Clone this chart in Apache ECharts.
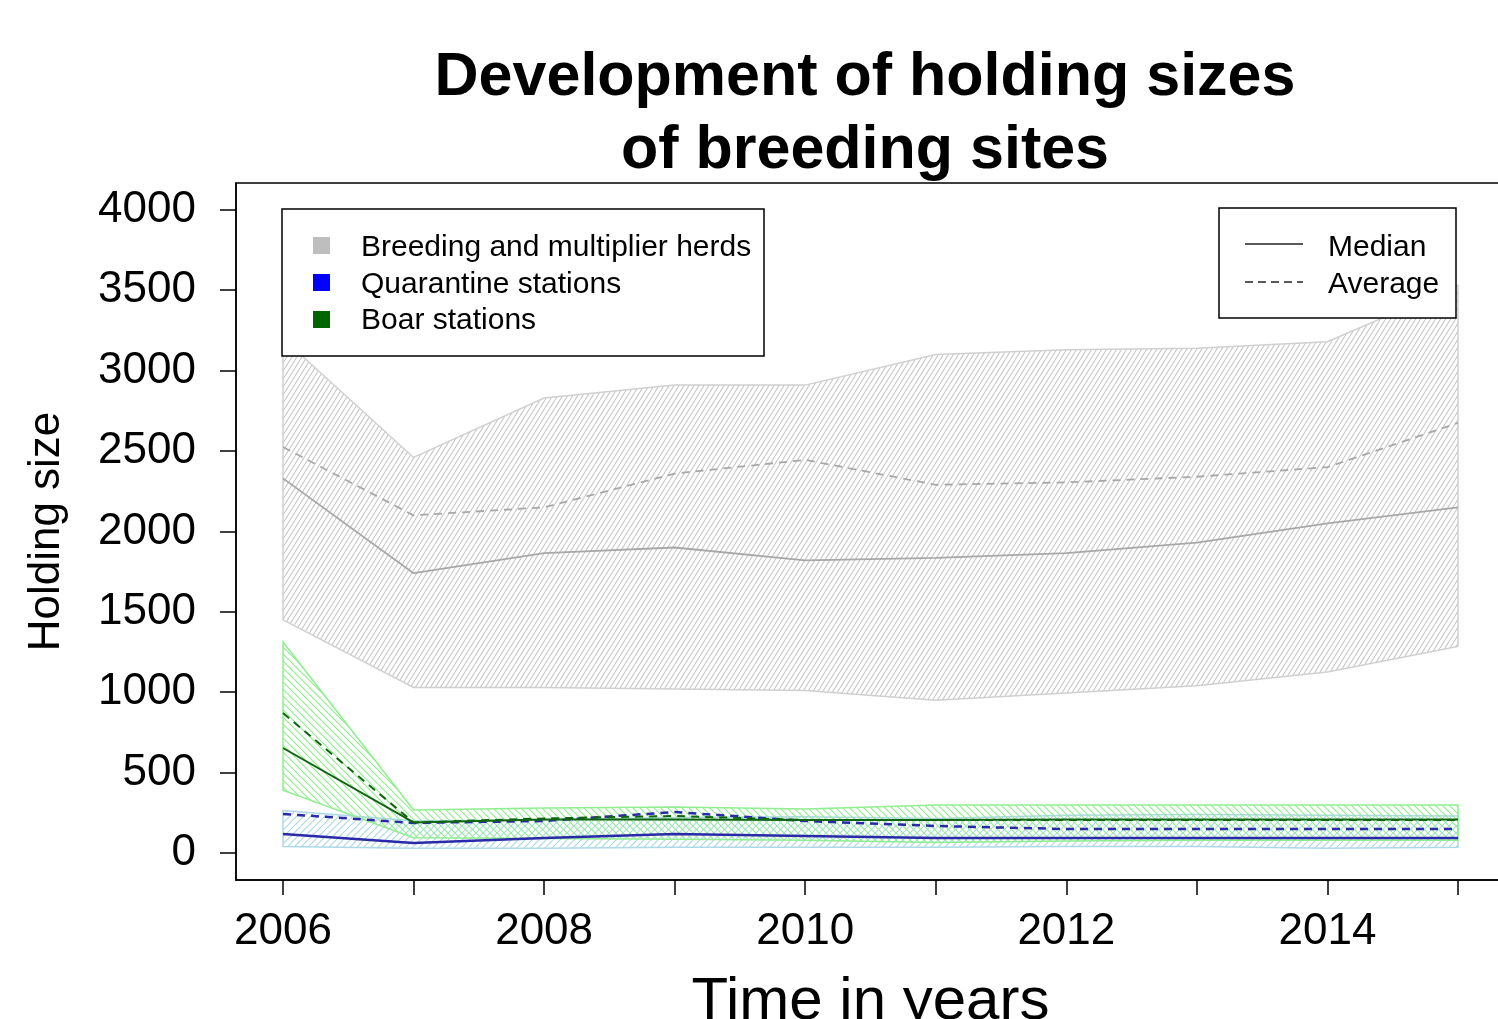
<!DOCTYPE html>
<html>
<head>
<meta charset="utf-8">
<script src="https://cdn.jsdelivr.net/npm/echarts@6/dist/echarts.min.js"></script>
<style>
html,body{margin:0;padding:0;background:#fff;}
#chart{width:1498px;height:1019px;}
</style>
</head>
<body>
<div id="chart"></div>
<script>
// years on the x axis
var years = [2006, 2007, 2008, 2009, 2010, 2011, 2012, 2013, 2014, 2015];
var yearLabels = [2006, 2008, 2010, 2012, 2014];
var yTicks = [0, 500, 1000, 1500, 2000, 2500, 3000, 3500, 4000];

// Breeding and multiplier herds
var breedUpper   = [3200, 2460, 2830, 2910, 2910, 3100, 3130, 3140, 3180, 3530];
var breedLower   = [1450, 1030, 1030, 1020, 1010, 950, 995, 1040, 1125, 1285];
var breedMedian  = [2330, 1740, 1865, 1900, 1820, 1835, 1865, 1930, 2050, 2150];
var breedAverage = [2525, 2100, 2150, 2360, 2445, 2290, 2305, 2340, 2400, 2675];

// Quarantine stations
var quarUpper   = [265, 200, 205, 220, 225, 215, 235, 240, 235, 230];
var quarLower   = [40, 30, 30, 35, 35, 35, 40, 40, 30, 35];
var quarMedian  = [118, 62, 93, 118, 106, 93, 93, 93, 93, 93];
var quarAverage = [243, 187, 199, 255, 199, 168, 149, 149, 149, 149];

// Boar stations
var boarUpper   = [1312, 267, 280, 286, 274, 298, 298, 298, 298, 298];
var boarLower   = [390, 95, 90, 85, 80, 65, 75, 80, 80, 80];
var boarMedian  = [653, 190, 208, 208, 205, 205, 208, 208, 208, 208];
var boarAverage = [870, 190, 215, 230, 205, 205, 205, 205, 205, 205];

var FONT = 'Liberation Sans, Arial, sans-serif';

function hatch(color, w, h, dir, lw) {
  var c = document.createElement('canvas');
  c.width = w; c.height = h;
  var ctx = c.getContext('2d');
  ctx.strokeStyle = color;
  ctx.lineWidth = lw;
  ctx.beginPath();
  for (var ox = -w; ox <= w; ox += w) {
    if (dir === '/') { ctx.moveTo(ox, h); ctx.lineTo(ox + w, 0); }
    else { ctx.moveTo(ox, 0); ctx.lineTo(ox + w, h); }
  }
  ctx.stroke();
  return {image: c, repeat: 'repeat'};
}

function band(name, color, lower, upper, fill, stroke) {
  return {
    name: name,
    type: 'custom',
    itemStyle: {color: color},
    data: [[years[0], lower[0]]],
    renderItem: function (params, api) {
      var pts = [];
      for (var i = 0; i < years.length; i++) pts.push(api.coord([years[i], upper[i]]));
      for (var j = years.length - 1; j >= 0; j--) pts.push(api.coord([years[j], lower[j]]));
      return {
        type: 'polygon',
        shape: {points: pts},
        style: {fill: fill, stroke: stroke, lineWidth: 1.5}
      };
    },
    silent: true
  };
}

function line(vals, color, dashed, width) {
  return {
    type: 'line',
    data: years.map(function (y, i) { return [y, vals[i]]; }),
    symbol: 'none',
    lineStyle: {color: color, width: width, type: dashed ? [8, 6] : 'solid'},
    z: 5,
    silent: true
  };
}

var chart = echarts.init(document.getElementById('chart'));
var option = {
  animation: false,
  backgroundColor: '#fff',
  title: {
    text: 'Development of holding sizes\nof breeding sites',
    left: 860,
    top: 37,
    textAlign: 'center',
    textStyle: {fontFamily: FONT, fontSize: 61, fontWeight: 'bold', color: '#000', lineHeight: 73}
  },
  grid: {
    left: 236, top: 183, width: 1269, height: 697,
    outerBoundsMode: 'none',
    containLabel: false,
    show: true, borderColor: '#000', borderWidth: 1.5, backgroundColor: 'transparent'
  },
  xAxis: {
    type: 'value',
    min: 2005.64, max: 2015.36,
    name: 'Time in years',
    nameLocation: 'middle',
    nameGap: 92,
    nameTextStyle: {fontFamily: FONT, fontSize: 60, color: '#000'},
    axisLine: {show: true, onZero: false, lineStyle: {color: '#000', width: 1.5}},
    axisTick: {show: true, length: 15, customValues: years, lineStyle: {color: '#000', width: 1.5}},
    axisLabel: {
      customValues: yearLabels, margin: 30,
      fontFamily: FONT, fontSize: 44, color: '#000',
      formatter: function (v) { return String(v); }
    },
    splitLine: {show: false}
  },
  yAxis: {
    type: 'value',
    min: -168, max: 4167,
    name: 'Holding size',
    nameLocation: 'middle',
    nameGap: 167,
    nameTextStyle: {fontFamily: FONT, fontSize: 44, color: '#000'},
    axisLine: {show: true, onZero: false, lineStyle: {color: '#000', width: 1.5}},
    axisTick: {show: true, length: 16, customValues: yTicks, lineStyle: {color: '#000', width: 1.5}},
    axisLabel: {
      customValues: yTicks, margin: 40,
      fontFamily: FONT, fontSize: 44, color: '#000',
      formatter: function (v) { return String(v); }
    },
    splitLine: {show: false}
  },
  series: [
    band('Breeding and multiplier herds', '#bebebe', breedLower, breedUpper, hatch('#c6c6c6', 5, 8, '/', 1.1), '#d0d0d0'),
    band('Quarantine stations', '#0000ff', quarLower, quarUpper, hatch('#add8e6', 7, 7, '/', 1.2), '#add8e6'),
    band('Boar stations', '#006400', boarLower, boarUpper, hatch('#90ee90', 7, 7, '\\', 1.2), '#90ee90'),
    line(breedMedian, '#a8a8a8', false, 1.8),
    line(breedAverage, '#a8a8a8', true, 1.8),
    line(quarMedian, '#2a2aa8', false, 2.5),
    line(quarAverage, '#2a2aa8', true, 2.5),
    line(boarMedian, '#106410', false, 2),
    line(boarAverage, '#106410', true, 2)
  ],
  graphic: [
    // group legend
    {type: 'rect', z: 100, shape: {x: 282, y: 209, width: 482, height: 147},
      style: {fill: '#fff', stroke: '#000', lineWidth: 1.5}},
    {type: 'rect', z: 101, shape: {x: 313, y: 237, width: 17, height: 17}, style: {fill: '#bebebe'}},
    {type: 'rect', z: 101, shape: {x: 313, y: 274, width: 17, height: 17}, style: {fill: '#0000ff'}},
    {type: 'rect', z: 101, shape: {x: 313, y: 311, width: 17, height: 17}, style: {fill: '#006400'}},
    {type: 'text', z: 101, x: 361, y: 248, style: {text: 'Breeding and multiplier herds', font: '30px ' + FONT, fill: '#000', verticalAlign: 'middle'}},
    {type: 'text', z: 101, x: 361, y: 285, style: {text: 'Quarantine stations', font: '30px ' + FONT, fill: '#000', verticalAlign: 'middle'}},
    {type: 'text', z: 101, x: 361, y: 321, style: {text: 'Boar stations', font: '30px ' + FONT, fill: '#000', verticalAlign: 'middle'}},
    // line-type legend
    {type: 'rect', z: 100, shape: {x: 1219, y: 208, width: 237, height: 110},
      style: {fill: '#fff', stroke: '#000', lineWidth: 1.5}},
    {type: 'line', z: 101, shape: {x1: 1245, y1: 244, x2: 1303, y2: 244}, style: {stroke: '#222', lineWidth: 1.5}},
    {type: 'line', z: 101, shape: {x1: 1245, y1: 282, x2: 1303, y2: 282}, style: {stroke: '#222', lineWidth: 1.5, lineDash: [8, 5]}},
    {type: 'text', z: 101, x: 1328, y: 248, style: {text: 'Median', font: '30px ' + FONT, fill: '#000', verticalAlign: 'middle'}},
    {type: 'text', z: 101, x: 1328, y: 285, style: {text: 'Average', font: '30px ' + FONT, fill: '#000', verticalAlign: 'middle'}}
  ]
};
chart.setOption(option);
</script>
</body>
</html>
